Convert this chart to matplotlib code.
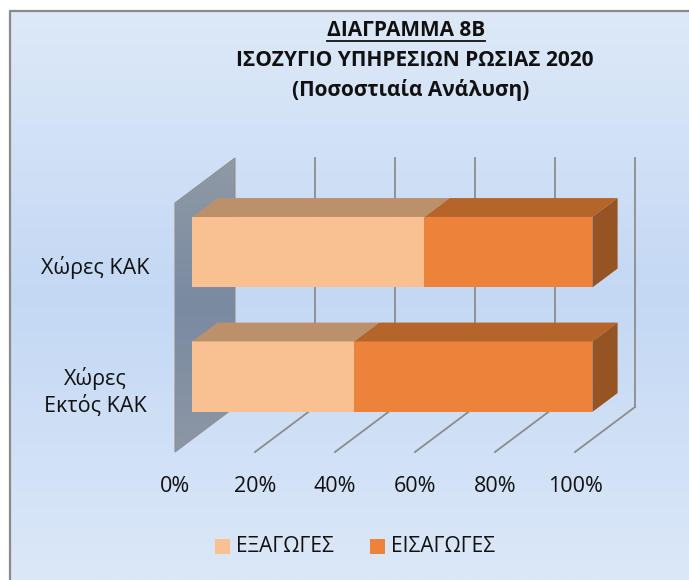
import numpy as np
import matplotlib
matplotlib.use("Agg")
import matplotlib.pyplot as plt
from matplotlib.patches import Polygon, Rectangle
from matplotlib.colors import LinearSegmentedColormap

plt.rcParams['font.family'] = ['Open Sans', 'DejaVu Sans']

# data
categories = ['Χώρες ΚΑΚ', 'Χώρες\nΕκτός ΚΑΚ']
exports = [58.0, 40.4]
imports = [42.0, 59.6]
series_names = ['ΕΞΑΓΩΓΕΣ', 'ΕΙΣΑΓΩΓΕΣ']
ticks = [0, 20, 40, 60, 80, 100]
tick_labels = ['0%', '20%', '40%', '60%', '80%', '100%']

# colours: front, top, side
cols = [('#F9C191', '#BD906C', '#B07E5A'),
        ('#ED833A', '#B5642A', '#965424')]

# oblique projection of (value %, category pos, depth) onto the canvas
X0, Y0 = 175, 452
SX, SC = 4.0, 124.5
DX, DY = 60, 45


def proj(v, c, z):
    return (X0 + v * SX + z * DX, Y0 - c * SC - z * DY)


fig = plt.figure(figsize=(6.89, 5.8), dpi=100)
ax = fig.add_axes([0, 0, 1, 1])
ax.set_xlim(0, 689)
ax.set_ylim(580, 0)
ax.axis('off')

# background gradient + border
bg = LinearSegmentedColormap.from_list('bg', ['#dde9f8', '#c4d8f4', '#dbe8f8'])
grad = np.linspace(0, 1, 256).reshape(-1, 1)
ax.imshow(grad, cmap=bg, extent=[10, 689, 580, 11], aspect='auto', zorder=0)
ax.plot([10, 10, 689], [580, 11, 11], color='#8a8a8a', lw=1.6, zorder=1)

# left wall
wall = Polygon([proj(0, 0, 0), proj(0, 2, 0), proj(0, 2, 1), proj(0, 0, 1)],
               closed=True, facecolor='none', edgecolor='#8f8f8f', lw=0.8, zorder=2)
ax.add_patch(wall)
wcm = LinearSegmentedColormap.from_list('w', ['#8f9aa6', '#7a8aa0', '#8d97a5'])
im = ax.imshow(grad, cmap=wcm, extent=[174, 236, 453, 157], aspect='auto', zorder=1.5)
im.set_clip_path(wall)

# gridlines: back wall verticals and floor lines
for t in ticks[1:]:
    xb, yb = proj(t, 0, 1)
    xt, yt = proj(t, 2, 1)
    xf, yf = proj(t, 0, 0)
    ax.plot([xb, xt], [yb, yt], color='#8c8c8c', lw=1.3, zorder=2)
    ax.plot([xf, xb], [yf, yb], color='#8c8c8c', lw=1.3, zorder=2)

# bars
z0, z1 = 0.29, 0.71
half = 0.283
centers = [1.5, 0.5]
for i in range(len(categories)):
    cb, ct = centers[i] - half, centers[i] + half
    left = 0
    vals = [exports[i], imports[i]]
    for k, v in enumerate(vals):
        right = left + v
        front, top, side = cols[k]
        ax.add_patch(Polygon([proj(left, cb, z0), proj(right, cb, z0),
                              proj(right, ct, z0), proj(left, ct, z0)],
                             closed=True, facecolor=front, edgecolor='none', zorder=3))
        ax.add_patch(Polygon([proj(left, ct, z0), proj(right, ct, z0),
                              proj(right, ct, z1), proj(left, ct, z1)],
                             closed=True, facecolor=top, edgecolor='none', zorder=3))
        if k == len(vals) - 1:
            ax.add_patch(Polygon([proj(right, cb, z0), proj(right, ct, z0),
                                  proj(right, ct, z1), proj(right, cb, z1)],
                                 closed=True, facecolor=side, edgecolor='none', zorder=3))
        left = right

# category labels
for i, cat in enumerate(categories):
    x, y = proj(0, centers[i], 0)
    ax.text(95, y + 2, cat, ha='center', va='center', fontsize=15.5,
            color='#111111', linespacing=1.3)

# tick labels
for t, lab in zip(ticks, tick_labels):
    x, y = proj(t, 0, 0)
    ax.text(x, 487, lab, ha='center', va='center', fontsize=15.5, color='#111111')

# title
t1 = ax.text(406, 30, 'ΔΙΑΓΡΑΜΜΑ 8Β', ha='center', va='center', fontsize=15,
             fontweight='bold', color='#111111')
ax.text(415, 60, 'ΙΣΟΖΥΓΙΟ ΥΠΗΡΕΣΙΩΝ ΡΩΣΙΑΣ 2020', ha='center', va='center',
        fontsize=15, fontweight='bold', color='#111111')
ax.text(411, 90, '(Ποσοστιαία Ανάλυση)', ha='center', va='center', fontsize=15,
        fontweight='bold', color='#111111')

# underline for first title line
fig.canvas.draw()
bb = t1.get_window_extent().transformed(ax.transData.inverted())
ax.plot([bb.x0, bb.x1], [41, 41], color='#111111', lw=1.3)

# legend
lx = [215, 370]
for k, name in enumerate(series_names):
    ax.add_patch(Rectangle((lx[k], 539), 15, 15, facecolor=cols[k][0],
                           edgecolor='none', zorder=3))
    ax.text(lx[k] + 21, 546, name, ha='left', va='center', fontsize=15,
            color='#111111')

fig.savefig('out.png', dpi=100)
